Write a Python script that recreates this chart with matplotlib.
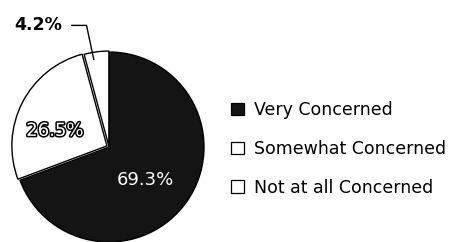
import matplotlib.pyplot as plt
import matplotlib.patheffects as pe
from matplotlib.patches import Patch

labels = ["Very Concerned", "Somewhat Concerned", "Not at all Concerned"]
values = [69.3, 26.5, 4.2]
colors = ["#141414", "white", "white"]
explode = [0, 0.025, 0.01]

plt.rcParams['font.family'] = ['DejaVu Sans']

fig = plt.figure(figsize=(4.5, 2.42), dpi=100)
# pie axes: radius 1 = 95 px, centre at (108, 147) from top-left
ax = fig.add_axes([14 / 450, 0 / 242, 190 / 450, 190 / 242])

wedges, _ = ax.pie(values, colors=colors, explode=explode, startangle=90,
                   counterclock=False, radius=1,
                   wedgeprops=dict(edgecolor='black', linewidth=1.0))
ax.set_xlim(-1, 1)
ax.set_ylim(-1, 1)
ax.axis('off')

# percent labels
ax.text(0.38, -0.35, "%.1f%%" % values[0], color='white', fontsize=13,
        ha='center', va='center')
ax.text(-0.57, 0.17, "%.1f%%" % values[1], color='white', fontsize=13,
        ha='center', va='center',
        path_effects=[pe.withStroke(linewidth=2.2, foreground='black')])
ax.annotate("%.1f%%" % values[2], xy=(-0.16, 0.92), xycoords='data',
            xytext=(-1.0, 1.28), textcoords='data', fontsize=12.5,
            fontweight='bold', ha='left', va='center', annotation_clip=False,
            arrowprops=dict(arrowstyle='-', color='black', lw=1.0,
                            shrinkA=5, shrinkB=0,
                            connectionstyle="angle,angleA=0,angleB=102,rad=0"))

handles = [Patch(facecolor=c, edgecolor='black', linewidth=0.9) for c in colors]
fig.legend(handles, labels, loc='center left', bbox_to_anchor=(231 / 450, 93 / 242),
           frameon=False, fontsize=12.5, handlelength=0.75, handleheight=0.75,
           handletextpad=0.6, labelspacing=1.2, borderpad=0, borderaxespad=0)

fig.savefig('out.png', dpi=100)
